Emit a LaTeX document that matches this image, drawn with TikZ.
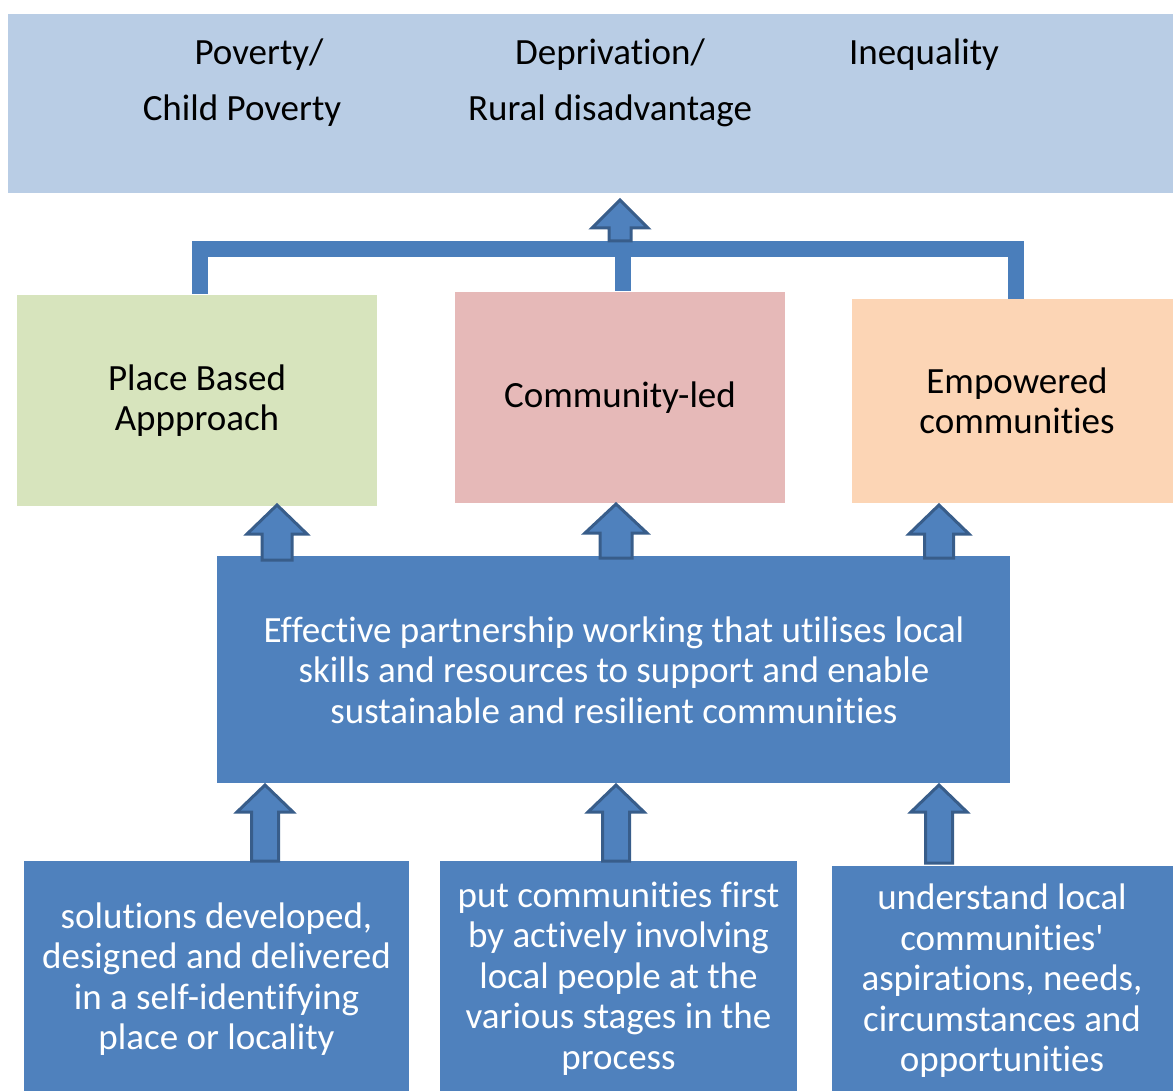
\documentclass[tikz,border=0pt]{standalone}
\usepackage{fontspec}
\newfontfamily\calfont{Carlito}[Ligatures=CommonOff]
\definecolor{topblue}{HTML}{B9CDE5}
\definecolor{boxgreen}{HTML}{D7E4BD}
\definecolor{boxpink}{HTML}{E6B9B8}
\definecolor{boxorange}{HTML}{FCD5B5}
\definecolor{midblue}{HTML}{4F81BD}
\definecolor{barblue}{HTML}{4A7EBB}
\definecolor{darkblue}{HTML}{385D8A}
\newcommand\blockup[7]{% cx, tip y, head y, bottom y, head hw, shaft hw, name
  \draw[blockarrow] (#1-#6,#4) -- (#1-#6,#3) -- (#1-#5,#3) -- (#1,#2) -- (#1+#5,#3) -- (#1+#6,#3) -- (#1+#6,#4) -- cycle;
}
\tikzset{
  txt/.style={font=\calfont\fontsize{37}{40.5}\selectfont, align=center, inner sep=0pt},
  box/.style={rectangle, inner sep=0pt, draw=none},
  blockarrow/.style={fill=midblue, draw=darkblue, line width=3pt, line join=miter},
}
\begin{document}
\begin{tikzpicture}[x=1pt,y=-1pt]
\useasboundingbox (0,0) rectangle (1173,1091);
% top box
\fill[topblue] (8,14) rectangle (1173,193);
\node[txt] (pov1) at (259,55) {Poverty/};
\node[txt] (pov2) at (242,111) {Child Poverty};
\node[txt] (dep1) at (610,55) {Deprivation/};
\node[txt] (dep2) at (610,111) {Rural disadvantage};
\node[txt] (ineq) at (924,55) {Inequality};
% three boxes
\node[box, fill=boxgreen, minimum width=360pt, minimum height=211pt] (place) at (197,400.5) {};
\node[txt] at (place.center) {Place Based\\Appproach};
\node[box, fill=boxpink, minimum width=330pt, minimum height=211pt] (comm) at (620,397.5) {};
\node[txt] at (comm.center) {Community-led};
\node[box, fill=boxorange, minimum width=321pt, minimum height=204pt] (emp) at (1012.5,401) {};
\node[txt] at (1017,401) {Empowered\\communities};
% connector bar
\coordinate (barL) at (200,249);
\coordinate (barR) at (1016,249);
\draw[barblue, line width=16pt, line join=miter] (200,294) -- (barL) -- (barR) -- (1016,299);
\draw[barblue, line width=16pt] (623,291) -- (623,249);
\blockup{620}{200}{228}{241}{28}{11}{topar}
% middle box
\node[box, fill=midblue, minimum width=793pt, minimum height=227pt] (part) at (613.5,669.5) {};
\node[txt, text=white] at (614,670) {Effective partnership working that utilises local\\skills and resources to support and enable\\sustainable and resilient communities};
% arrows middle
\blockup{277}{505}{534}{560}{30}{15}{a1}
\blockup{616}{504}{533}{558}{31}{16}{a2}
\blockup{939}{505}{534}{558}{30}{14.5}{a3}
% bottom boxes
\node[box, fill=midblue, minimum width=385pt, minimum height=230pt] (b1) at (216.5,976) {};
\node[txt, text=white] at (216.5,979) {solutions developed,\\designed and delivered\\in a self-identifying\\place or locality};
\node[box, fill=midblue, minimum width=357pt, minimum height=230pt] (b2) at (618.5,976) {};
\node[txt, text=white] at (618.5,978.5) {put communities first\\by actively involving\\local people at the\\various stages in the\\process};
\node[box, fill=midblue, minimum width=341pt, minimum height=225pt] (b3) at (1002.5,978.5) {};
\node[txt, text=white] at (1002,981) {understand local\\communities'\\aspirations, needs,\\circumstances and\\opportunities};
% bottom arrows
\blockup{265}{785}{812}{861}{28}{13.5}{c1}
\blockup{616}{785}{812}{861}{28}{13.5}{c2}
\blockup{939}{785}{812}{863}{28}{13.5}{c3}
\end{tikzpicture}
\end{document}
